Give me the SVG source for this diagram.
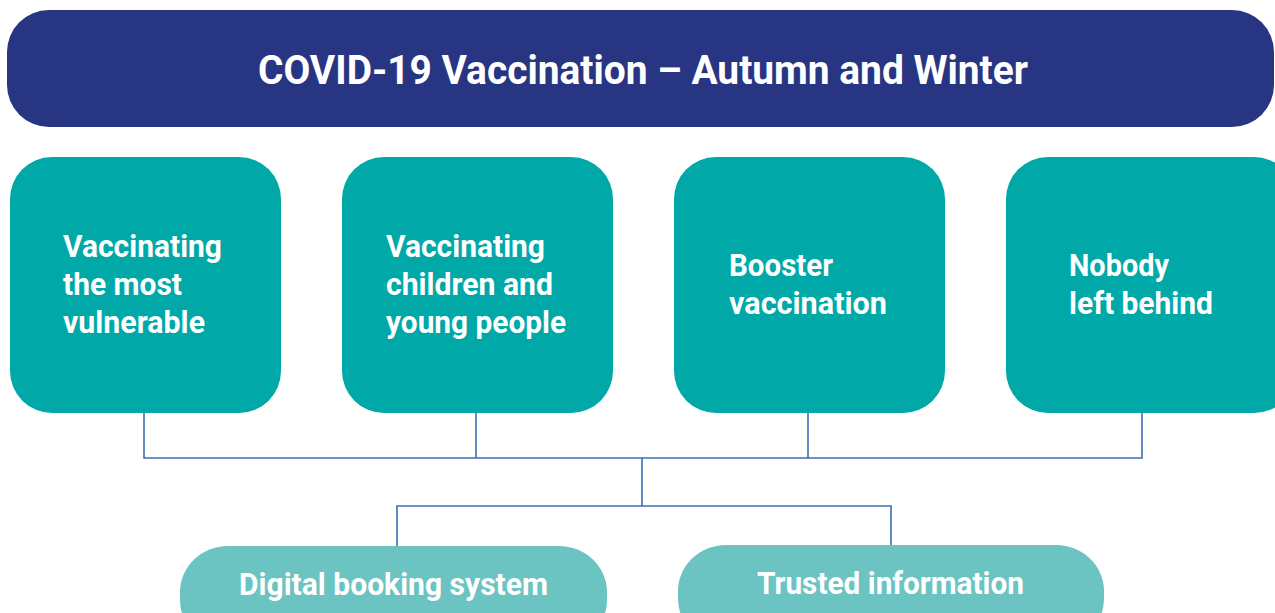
<svg xmlns="http://www.w3.org/2000/svg" width="1275" height="613" viewBox="0 0 1275 613">
<style>
.hdr{fill:#283583}
.box{fill:#00a8a8}
.pill{fill:#6bc3c2}
.t{fill:#ffffff;font-family:Roboto,"Liberation Sans",sans-serif;font-weight:700}
.bt{font-size:32px}
.conn{fill:none;stroke:#3d6fb6;stroke-width:1.6}
</style>
<rect width="1275" height="613" fill="#ffffff"/>
<g id="header">
<rect class="hdr" x="7" y="10" width="1267" height="117" rx="42" ry="42"/>
<text class="t" x="258" y="84" font-size="41" textLength="770" lengthAdjust="spacingAndGlyphs">COVID-19 Vaccination – Autumn and Winter</text>
</g>
<g id="connectors">
<path class="conn" d="M144 413V458H1142V413M476 413V458M808 413V458M642 458V506M397 546V506H891V545"/>
</g>
<g id="node1">
<rect class="box" x="10" y="157" width="271" height="256" rx="42" ry="42"/>
<text class="t bt" x="63" y="257" textLength="159" lengthAdjust="spacingAndGlyphs">Vaccinating</text>
<text class="t bt" x="63" y="295" textLength="119" lengthAdjust="spacingAndGlyphs">the most</text>
<text class="t bt" x="63" y="333" textLength="142" lengthAdjust="spacingAndGlyphs">vulnerable</text>
</g>
<g id="node2">
<rect class="box" x="342" y="157" width="271" height="256" rx="42" ry="42"/>
<text class="t bt" x="386" y="257" textLength="159" lengthAdjust="spacingAndGlyphs">Vaccinating</text>
<text class="t bt" x="386" y="295" textLength="167" lengthAdjust="spacingAndGlyphs">children and</text>
<text class="t bt" x="386" y="333" textLength="180" lengthAdjust="spacingAndGlyphs">young people</text>
</g>
<g id="node3">
<rect class="box" x="674" y="157" width="271" height="256" rx="42" ry="42"/>
<text class="t bt" x="729" y="276" textLength="104" lengthAdjust="spacingAndGlyphs">Booster</text>
<text class="t bt" x="729" y="314" textLength="158" lengthAdjust="spacingAndGlyphs">vaccination</text>
</g>
<g id="node4">
<rect class="box" x="1006" y="157" width="290" height="256" rx="42" ry="42"/>
<text class="t bt" x="1069" y="276" textLength="100" lengthAdjust="spacingAndGlyphs">Nobody</text>
<text class="t bt" x="1069" y="314" textLength="144" lengthAdjust="spacingAndGlyphs">left behind</text>
</g>
<g id="node5">
<rect class="pill" x="180" y="546" width="427" height="100" rx="48" ry="46"/>
<text class="t bt" x="239" y="595" textLength="309" lengthAdjust="spacingAndGlyphs">Digital booking system</text>
</g>
<g id="node6">
<rect class="pill" x="678" y="545" width="426" height="100" rx="48" ry="46"/>
<text class="t bt" x="757" y="594" textLength="267" lengthAdjust="spacingAndGlyphs">Trusted information</text>
</g>
</svg>
